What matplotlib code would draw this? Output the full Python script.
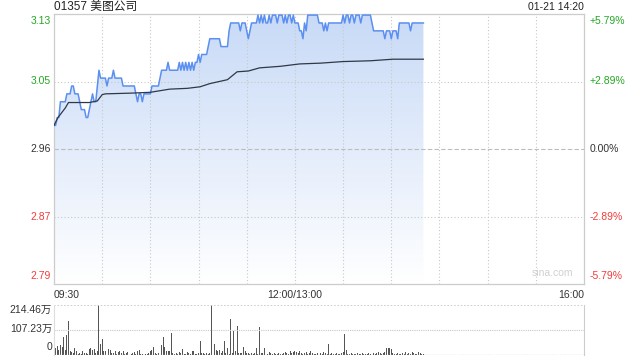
import matplotlib
matplotlib.use('Agg')
import matplotlib.pyplot as plt
from matplotlib.colors import LinearSegmentedColormap
import numpy as np

plt.rcParams['font.family'] = ['Liberation Sans', 'Noto Sans CJK SC']

# --- data (minute index from 09:30) ---
prev_close = 2.96
price = [
    2.99, 2.99, 3.00, 3.00, 3.02, 3.02, 3.02, 3.02, 3.03, 3.03,
    3.03, 3.04, 3.04, 3.03, 3.03, 3.03, 3.02, 3.01, 3.01, 3.01,
    3.00, 3.00, 3.01, 3.02, 3.03, 3.02, 3.02, 3.04, 3.06, 3.05,
    3.05, 3.05, 3.05, 3.04, 3.05, 3.05, 3.05, 3.06, 3.05, 3.05,
    3.05, 3.05, 3.05, 3.04, 3.04, 3.04, 3.04, 3.04, 3.04, 3.04,
    3.04, 3.03, 3.02, 3.03, 3.03, 3.02, 3.03, 3.03, 3.03, 3.03,
    3.03, 3.04, 3.04, 3.04, 3.04, 3.04, 3.05, 3.06, 3.06, 3.06,
    3.06, 3.07, 3.06, 3.06, 3.06, 3.06, 3.06, 3.06, 3.07, 3.06,
    3.07, 3.06, 3.07, 3.06, 3.07, 3.06, 3.07, 3.06, 3.07, 3.07,
    3.08, 3.07, 3.08, 3.08, 3.08, 3.08, 3.09, 3.10, 3.10, 3.10,
    3.10, 3.10, 3.10, 3.10, 3.09, 3.09, 3.09, 3.09, 3.09, 3.11,
    3.12, 3.12, 3.12, 3.12, 3.12, 3.12, 3.11, 3.12, 3.12, 3.12,
    3.11, 3.10, 3.11, 3.12, 3.12, 3.12, 3.12, 3.13, 3.12, 3.13,
    3.12, 3.13, 3.12, 3.12, 3.13, 3.12, 3.13, 3.13, 3.13, 3.12,
    3.13, 3.13, 3.13, 3.12, 3.13, 3.12, 3.13, 3.13, 3.12, 3.13,
    3.12, 3.12, 3.12, 3.11, 3.11, 3.10, 3.12, 3.11, 3.13, 3.13,
    3.13, 3.13, 3.13, 3.13, 3.13, 3.12, 3.12, 3.12, 3.11, 3.12,
    3.11, 3.12, 3.12, 3.12, 3.12, 3.12, 3.12, 3.12, 3.12, 3.12,
    3.13, 3.12, 3.13, 3.13, 3.12, 3.13, 3.13, 3.12, 3.13, 3.13,
    3.13, 3.12, 3.13, 3.13, 3.13, 3.13, 3.13, 3.13, 3.12, 3.11,
    3.11, 3.11, 3.11, 3.11, 3.11, 3.11, 3.10, 3.11, 3.11, 3.11,
    3.10, 3.11, 3.11, 3.11, 3.10, 3.12, 3.12, 3.12, 3.12, 3.12,
    3.12, 3.12, 3.11, 3.12, 3.12, 3.12, 3.12, 3.12, 3.12, 3.12,
    3.12,
]
minutes = np.arange(len(price))

avg_minutes = [0, 2.5, 7, 9, 22, 27, 30, 32, 49, 60, 66, 72, 83, 91, 97,
               108, 114, 121, 128, 141, 153, 166, 180, 197, 211, 230]
avg_price = [2.990, 3.000, 3.012, 3.019, 3.019, 3.021, 3.029, 3.030, 3.031,
             3.032, 3.034, 3.036, 3.037, 3.039, 3.043, 3.048, 3.058, 3.059,
             3.063, 3.065, 3.068, 3.069, 3.071, 3.072, 3.074, 3.074]

# volume in 万 shares
volume = [
    34, 30, 37, 20, 44, 33, 76, 23, 87, 147,
    16, 13, 8, 30, 16, 6, 9, 4, 16, 9,
    9, 4, 27, 30, 23, 27, 10, 16, 213, 47,
    70, 16, 16, 13, 26, 23, 8, 9, 19, 4,
    13, 19, 9, 16, 4, 9, 13, 1, 4, 9,
    13, 6, 19, 20, 6, 4, 1, 6, 4, 9,
    19, 23, 33, 9, 4, 9, 9, 42, 76, 33,
    19, 16, 19, 94, 9, 4, 9, 4, 13, 9,
    27, 4, 6, 13, 9, 4, 16, 19, 4, 4,
    8, 61, 9, 9, 6, 9, 6, 9, 214.46, 27,
    47, 23, 19, 23, 9, 16, 59, 9, 30, 6,
    156, 9, 104, 16, 126, 9, 8, 9, 33, 16,
    8, 9, 6, 9, 4, 9, 30, 4, 121, 9,
    9, 30, 4, 4, 13, 9, 4, 9, 4, 4,
    9, 4, 4, 9, 13, 9, 6, 16, 9, 13,
    19, 11, 9, 16, 9, 6, 9, 13, 4, 9,
    16, 9, 4, 6, 9, 4, 9, 6, 13, 9,
    6, 46, 4, 9, 6, 4, 9, 6, 4, 9,
    13, 89, 21, 6, 4, 9, 4, 6, 4, 9,
    4, 6, 9, 4, 6, 4, 9, 6, 4, 9,
    6, 9, 13, 9, 6, 9, 13, 30, 28, 31,
    27, 9, 6, 4, 9, 6, 4, 9, 6, 13,
    4, 9, 6, 13, 9, 4, 6, 13, 9, 4,
    6,
]

y_labels_left = ['3.13', '3.05', '2.96', '2.87', '2.79']
y_labels_right = ['+5.79%', '+2.89%', '0.00%', '-2.89%', '-5.79%']
pct_levels = [0.0579, 0.02895, 0.0, -0.02895, -0.0579]
vol_labels = ['214.46万', '107.23万', '0']
vol_max = 214.46
time_labels = ['09:30', '12:00/13:00', '16:00']
title = '01357 美图公司'
stamp = '01-21 14:20'

GREEN = '#22a822'
RED = '#f03c3c'
DARK = '#333333'
GRID = '#c8c8c8'

W, H = 640, 360


def fx(px):
    return px / W


def fy(py):
    return 1 - py / H


fig = plt.figure(figsize=(6.4, 3.6), dpi=100)
ax = fig.add_axes([fx(54), fy(284), 530 / W, 270 / H])
axv = fig.add_axes([fx(54), fy(355), 530 / W, 50 / H])

ymin = prev_close * (1 - 0.0579)
ymax = prev_close * (1 + 0.0579)
ax.set_xlim(0, 330)
ax.set_ylim(ymin, ymax)

# gradient fill under the price line
cmap = LinearSegmentedColormap.from_list('fill', ['#ffffff', '#c8daf7'])
grad = np.linspace(0, 1, 256).reshape(-1, 1)
img = ax.imshow(grad, cmap=cmap, origin='lower', aspect='auto',
                extent=[0, 330, ymin, ymax], zorder=1)
poly = ax.fill_between(minutes, price, ymin, facecolor='none', edgecolor='none')
img.set_clip_path(poly.get_paths()[0], transform=ax.transData)

# grid
for t in range(30, 330, 30):
    ax.axvline(t, color=GRID, lw=0.8, ls=(0, (1, 2)), zorder=2)
for p in pct_levels[1:-1]:
    lev = prev_close * (1 + p)
    if p == 0:
        ax.axhline(lev, color='#bdbdbd', lw=0.8, ls=(0, (4, 2)), zorder=2)
    else:
        ax.axhline(lev, color=GRID, lw=0.8, ls=(0, (1, 2)), zorder=2)

ax.plot(minutes, price, color='#5b8ff0', lw=1.1, zorder=4)
ax.plot(avg_minutes, avg_price, color='#2f3847', lw=0.9, zorder=4)

ax.set_xticks([])
ax.set_yticks([])
for s in ax.spines.values():
    s.set_color('#cccccc')
    s.set_linewidth(0.9)

# price / percent labels
ytr = ax.get_yaxis_transform()
for i, (lab, rlab, p) in enumerate(zip(y_labels_left, y_labels_right, pct_levels)):
    lev = prev_close * (1 + p)
    color = GREEN if p > 0 else (RED if p < 0 else DARK)
    va = 'center'
    if i == 0:
        va = 'top'
        lev = ymax - 0.003
    elif i == len(pct_levels) - 1:
        va = 'bottom'
        lev = ymin + 0.004
    ax.text(-0.006, lev, lab, transform=ytr, ha='right', va=va,
            color=color, fontsize=7.5)
    ax.text(1.01, lev, rlab, transform=ytr, ha='left', va=va,
            color=color, fontsize=7.5)

ax.text(0.94, ymin + 0.008, 'sina.com', transform=ytr, ha='center', va='bottom',
        color='#d0d0d0', fontsize=7.5)

# header
fig.text(fx(54), fy(7), title, ha='left', va='center', fontsize=8.5, color='#222222')
fig.text(fx(584), fy(7), stamp, ha='right', va='center', fontsize=7.5, color='#222222')

# time labels
fig.text(fx(54), fy(295), time_labels[0], ha='left', va='center', fontsize=7.5, color=DARK)
fig.text(fx(54 + 530 * 150 / 330), fy(295), time_labels[1], ha='center', va='center',
         fontsize=7.5, color=DARK)
fig.text(fx(584), fy(295), time_labels[2], ha='right', va='center', fontsize=7.5, color=DARK)

# volume panel
axv.bar(np.arange(len(volume)), volume, width=0.6, color='#555555', linewidth=0)
axv.set_xlim(0, 330)
axv.set_ylim(0, vol_max)
axv.axhline(vol_max / 2, color=GRID, lw=0.8, ls=(0, (1, 1)))
axv.axhline(vol_max, color=GRID, lw=1.2, ls=(0, (1, 1)))
axv.axhline(0, color=GRID, lw=1.0, ls=(0, (1, 1)))
axv.set_xticks([])
axv.set_yticks([])
axv.spines['top'].set_visible(False)
axv.spines['bottom'].set_visible(False)
axv.spines['left'].set_color('#dddddd')
axv.spines['right'].set_color('#cccccc')

fig.text(fx(52), fy(310), vol_labels[0], ha='right', va='center', fontsize=7.5, color=DARK)
fig.text(fx(52), fy(329), vol_labels[1], ha='right', va='center', fontsize=7.5, color=DARK)
fig.text(fx(52), fy(347), vol_labels[2], ha='right', va='center', fontsize=7.5, color=DARK)

fig.savefig('out.png', dpi=100)
